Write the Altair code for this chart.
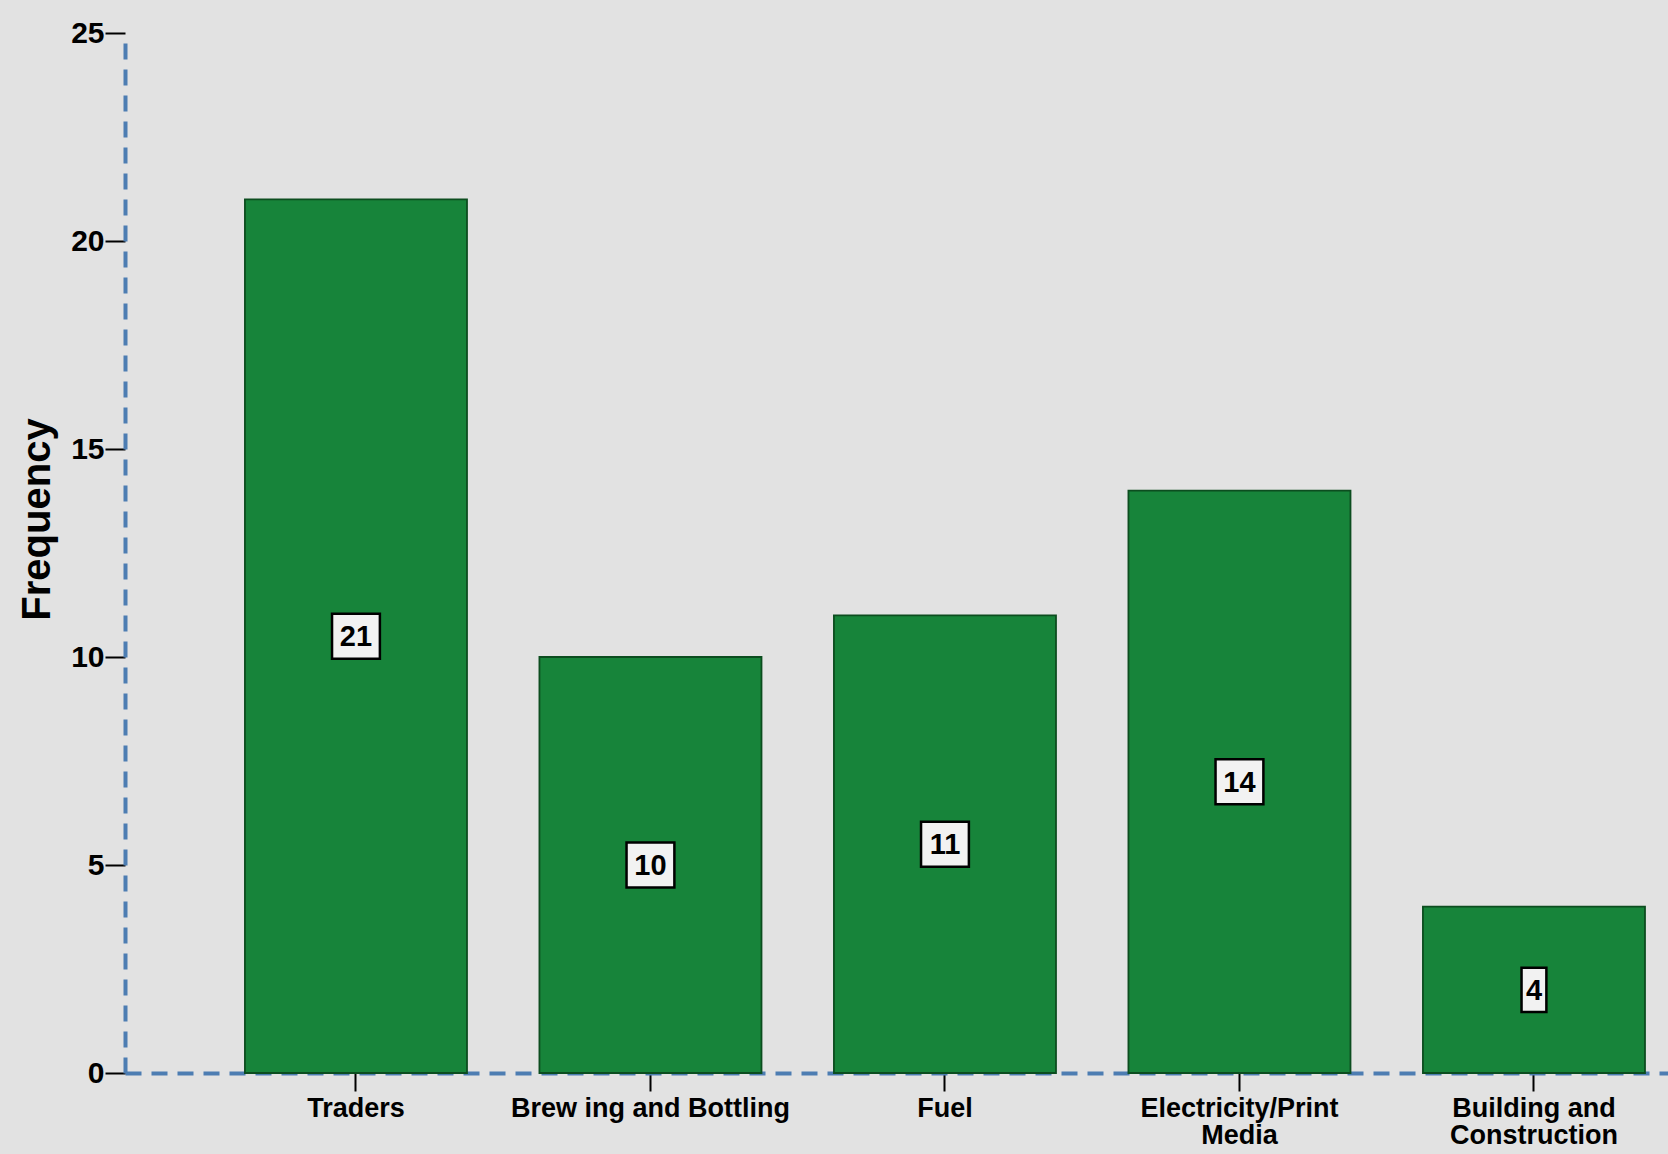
import altair as alt
import pandas as pd

categories = [
    "Traders",
    "Brew ing and Bottling",
    "Fuel",
    "Electricity/Print\nMedia",
    "Building and\nConstruction",
]
frequencies = [21, 10, 11, 14, 4]
y_ticks = [0, 5, 10, 15, 20, 25]

df = pd.DataFrame({"category": categories, "frequency": frequencies})

FONT = "Liberation Sans"
GREEN = "#17843a"
EDGE = "#0c4d1f"
AXIS_BLUE = "#4d7db2"

W, H = 1543, 1040

x_enc = alt.X(
    "category:N",
    sort=categories,
    title=None,
    scale=alt.Scale(paddingInner=0.246, paddingOuter=0.2427, align=0.839),
    axis=alt.Axis(
        labelAngle=0,
        labelFont=FONT,
        labelFontSize=27,
        labelFontWeight="bold",
        labelColor="black",
        labelExpr="split(datum.label, '\\n')",
        labelLineHeight=27,
        labelPadding=4,
        labelLimit=0,
        tickColor="black",
        tickSize=18,
        tickWidth=2,
        domainColor=AXIS_BLUE,
        domainDash=[16, 10],
        domainWidth=4,
    ),
)

y_enc = alt.Y(
    "frequency:Q",
    title="Frequency",
    scale=alt.Scale(domain=[0, 25], nice=False),
    axis=alt.Axis(
        values=y_ticks,
        grid=False,
        labelFont=FONT,
        labelFontSize=30,
        labelFontWeight="bold",
        labelColor="black",
        labelPadding=1,
        tickColor="black",
        tickSize=20,
        tickWidth=2,
        domainColor=AXIS_BLUE,
        domainDash=[16, 10],
        domainWidth=4,
        titleFont=FONT,
        titleFontSize=40,
        titleFontWeight="bold",
        titleColor="black",
        titlePadding=13,
        titleY=486,
    ),
)

bars = alt.Chart(df).mark_bar(color=GREEN, stroke=EDGE, strokeWidth=1.8).encode(
    x=x_enc, y=y_enc
)

wide = "M-1.04,-0.98H1.04V0.98H-1.04Z"
narrow = "M-0.54,-0.96H0.54V0.96H-0.54Z"

boxes = (
    alt.Chart(df)
    .transform_calculate(mid="datum.frequency / 2")
    .mark_point(filled=True, fill="#f2f2f2", stroke="black", strokeWidth=2.5, size=2116, opacity=1)
    .encode(
        x=alt.X("category:N", sort=categories),
        y=alt.Y("mid:Q"),
        shape=alt.condition("datum.frequency >= 10", alt.value(wide), alt.value(narrow)),
    )
)

labels = (
    alt.Chart(df)
    .transform_calculate(mid="datum.frequency / 2")
    .mark_text(font=FONT, fontSize=29, fontWeight="bold", color="black", baseline="middle", dy=1)
    .encode(
        x=alt.X("category:N", sort=categories),
        y=alt.Y("mid:Q"),
        text=alt.Text("frequency:Q"),
    )
)

chart = (
    alt.layer(bars, boxes, labels)
    .properties(
        width=W,
        height=H,
        autosize=alt.AutoSizeParams(type="none"),
        padding={"left": 125, "top": 33, "right": 0, "bottom": 81},
        background="#e2e2e2",
    )
    .configure_view(stroke=None)
)

chart.save("out.html", embed_options={"renderer": "svg", "actions": False})
